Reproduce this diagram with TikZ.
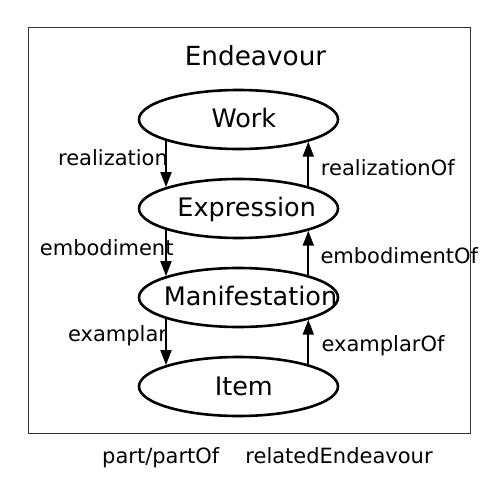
\documentclass[tikz,border=0pt]{standalone}
\usepackage{fontspec}
\setmainfont{DejaVu Sans}
\usetikzlibrary{shapes.geometric,arrows.meta}
\begin{document}
\begin{tikzpicture}[x=1pt,y=-1pt,
  cls/.style={ellipse,draw,line width=2.6pt,minimum width=199pt,minimum height=59pt,inner sep=0pt},
  clstext/.style={anchor=base,inner sep=0pt,font=\fontsize{25.5pt}{30pt}\selectfont},
  lbl/.style={anchor=base,inner sep=0pt,font=\fontsize{21pt}{25pt}\selectfont},
  arr/.style={line width=1.8pt,-{Triangle[length=15pt,width=11pt]}},
  frame/.style={draw=black!80,line width=1pt}]
\useasboundingbox (0,0) rectangle (500,500);
\node[frame,minimum width=442pt,minimum height=405pt,inner sep=0pt] (box) at (249,230.5) {};
\node[clstext,font=\fontsize{26.3pt}{31pt}\selectfont] (title) at (255.5,65.5) {Endeavour};
\node[cls] (work) at (238.5,119.5) {};
\node[cls] (expr) at (238.5,208.5) {};
\node[cls] (manif) at (238.5,297.5) {};
\node[cls] (item) at (238.5,386.5) {};
\node[clstext] (workt) at (243.8,127.5) {Work};
\node[clstext] (exprt) at (246.7,216.7) {Expression};
\node[clstext] (manift) at (250.5,305) {Manifestation};
\node[clstext] (itemt) at (243.8,395.7) {Item};
\draw[arr] ([shift={(-72.5,21.4)}]work.center) -- ([shift={(-72.5,-21.4)}]expr.center);
\draw[arr] ([shift={(-72.5,21.4)}]expr.center) -- ([shift={(-72.5,-21.4)}]manif.center);
\draw[arr] ([shift={(-72.5,21.4)}]manif.center) -- ([shift={(-72.5,-21.4)}]item.center);
\draw[arr] ([shift={(69.8,-22.2)}]expr.center) -- ([shift={(69.8,22.2)}]work.center);
\draw[arr] ([shift={(69.8,-22.2)}]manif.center) -- ([shift={(69.8,22.2)}]expr.center);
\draw[arr] ([shift={(69.8,-22.2)}]item.center) -- ([shift={(69.8,22.2)}]manif.center);
\node[lbl] (l1) at (113,165) {realization};
\node[lbl] (l2) at (387.8,175) {realizationOf};
\node[lbl] (l3) at (106.7,255) {embodiment};
\node[lbl] (l4) at (399.3,263.3) {embodimentOf};
\node[lbl] (l5) at (117.5,341.7) {examplar};
\node[lbl] (l6) at (383,351.7) {examplarOf};
\node[lbl] (l7) at (160.8,463.3) {part/partOf};
\node[lbl] (l8) at (339,463.3) {relatedEndeavour};
\end{tikzpicture}
\end{document}
